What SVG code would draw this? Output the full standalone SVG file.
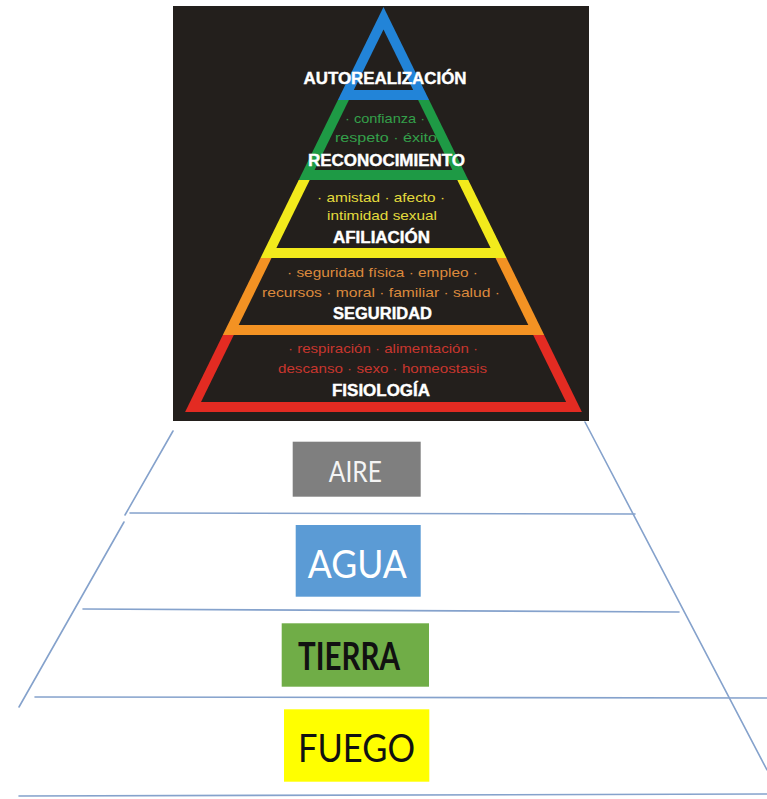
<svg xmlns="http://www.w3.org/2000/svg" width="767" height="799" viewBox="0 0 767 799">
<style>
.bg{fill:#231f1c}
.inner{fill:#231f1c}
.lbl{font-family:"Liberation Sans",Arial,sans-serif;font-weight:700;font-size:16px;fill:#ffffff;stroke:#ffffff;stroke-width:0.4;text-anchor:middle}
.sm{font-family:"Liberation Sans",Arial,sans-serif;font-size:13px;text-anchor:middle}
.ln{stroke:#85a2cc;stroke-width:1.6;fill:none;stroke-linecap:round}
.big{font-family:Lato,"Open Sans",sans-serif;text-anchor:middle}
</style>
<rect class="bg" x="173" y="6" width="416" height="415"/>
<g id="level-autorealizacion">
  <polygon points="383.5,7 429.1,100 337.9,100" fill="#2284d8"/>
  <polygon class="inner" points="383.5,29.4 413.2,90 353.8,90"/>
  <text class="lbl" x="385" y="84" textLength="163" lengthAdjust="spacingAndGlyphs">AUTOREALIZACIÓN</text>
</g>
<g id="level-reconocimiento">
  <polygon points="337.9,100 429.1,100 468.3,180 298.7,180" fill="#1e9a45"/>
  <polygon class="inner" points="348.9,100 418.1,100 452.4,170 314.6,170"/>
  <text class="sm" x="385" y="122.5" fill="#34a04a" textLength="80" lengthAdjust="spacingAndGlyphs">· confianza ·</text>
  <text class="sm" x="386" y="141.5" fill="#34a04a" textLength="102" lengthAdjust="spacingAndGlyphs">respeto · éxito</text>
  <text class="lbl" x="386.5" y="166" textLength="157" lengthAdjust="spacingAndGlyphs">RECONOCIMIENTO</text>
</g>
<g id="level-afiliacion">
  <polygon points="298.7,180 468.3,180 506.5,258 260.5,258" fill="#f2ea1c"/>
  <polygon class="inner" points="309.7,180 457.3,180 490.6,248 276.4,248"/>
  <text class="sm" x="381" y="201.5" fill="#e4dc3c" textLength="128" lengthAdjust="spacingAndGlyphs">· amistad · afecto ·</text>
  <text class="sm" x="382" y="219.5" fill="#e4dc3c" textLength="110" lengthAdjust="spacingAndGlyphs">intimidad sexual</text>
  <text class="lbl" x="381.5" y="243" textLength="97" lengthAdjust="spacingAndGlyphs">AFILIACIÓN</text>
</g>
<g id="level-seguridad">
  <polygon points="260.5,258 506.5,258 544.2,335 222.8,335" fill="#f39223"/>
  <polygon class="inner" points="271.5,258 495.5,258 528.3,325 238.7,325"/>
  <text class="sm" x="382.5" y="276.5" fill="#dc8a3c" textLength="191" lengthAdjust="spacingAndGlyphs">· seguridad física ·  empleo ·</text>
  <text class="sm" x="381" y="296.5" fill="#dc8a3c" textLength="238" lengthAdjust="spacingAndGlyphs">recursos ·  moral · familiar · salud ·</text>
  <text class="lbl" x="382.5" y="319" textLength="99" lengthAdjust="spacingAndGlyphs">SEGURIDAD</text>
</g>
<g id="level-fisiologia">
  <polygon points="222.8,335 544.2,335 581.9,412 185.1,412" fill="#e32b22"/>
  <polygon class="inner" points="233.8,335 533.2,335 566.1,402 201,402"/>
  <text class="sm" x="383" y="352.5" fill="#c8362e" textLength="190" lengthAdjust="spacingAndGlyphs">· respiración · alimentación ·</text>
  <text class="sm" x="382.5" y="372.5" fill="#c8362e" textLength="209" lengthAdjust="spacingAndGlyphs">descanso · sexo · homeostasis</text>
  <text class="lbl" x="381" y="396" textLength="98" lengthAdjust="spacingAndGlyphs">FISIOLOGÍA</text>
</g>
<g id="connectors">
  <line class="ln" x1="173" y1="431" x2="125" y2="515"/>
  <line class="ln" x1="130" y1="513" x2="635" y2="514"/>
  <line class="ln" x1="585" y1="422" x2="767" y2="770"/>
  <line class="ln" x1="124" y1="522" x2="19" y2="707"/>
  <line class="ln" x1="83" y1="609" x2="679" y2="612"/>
  <line class="ln" x1="35" y1="697" x2="767" y2="698"/>
  <line class="ln" x1="19" y1="796" x2="767" y2="794"/>
</g>
<g id="aire">
  <rect x="292.7" y="441.7" width="128" height="55" fill="#7f7f7f"/>
  <text class="big" x="355.3" y="481.7" font-size="28" fill="#f4f4f4" textLength="53" lengthAdjust="spacingAndGlyphs">AIRE</text>
</g>
<g id="agua">
  <rect x="295.7" y="525" width="125" height="71.7" fill="#5b9bd5"/>
  <text class="big" x="357.3" y="578.3" font-size="39" fill="#ffffff" textLength="99" lengthAdjust="spacingAndGlyphs">AGUA</text>
</g>
<g id="tierra">
  <rect x="281.7" y="623.3" width="147.3" height="63.4" fill="#70ad47"/>
  <text class="big" x="349" y="670" font-size="37.5" font-weight="700" fill="#111111" textLength="102" lengthAdjust="spacingAndGlyphs">TIERRA</text>
</g>
<g id="fuego">
  <rect x="284" y="709.3" width="145.3" height="72.4" fill="#ffff00"/>
  <text class="big" x="356.5" y="761.7" font-size="39" fill="#111111" textLength="117" lengthAdjust="spacingAndGlyphs">FUEGO</text>
</g>
</svg>
